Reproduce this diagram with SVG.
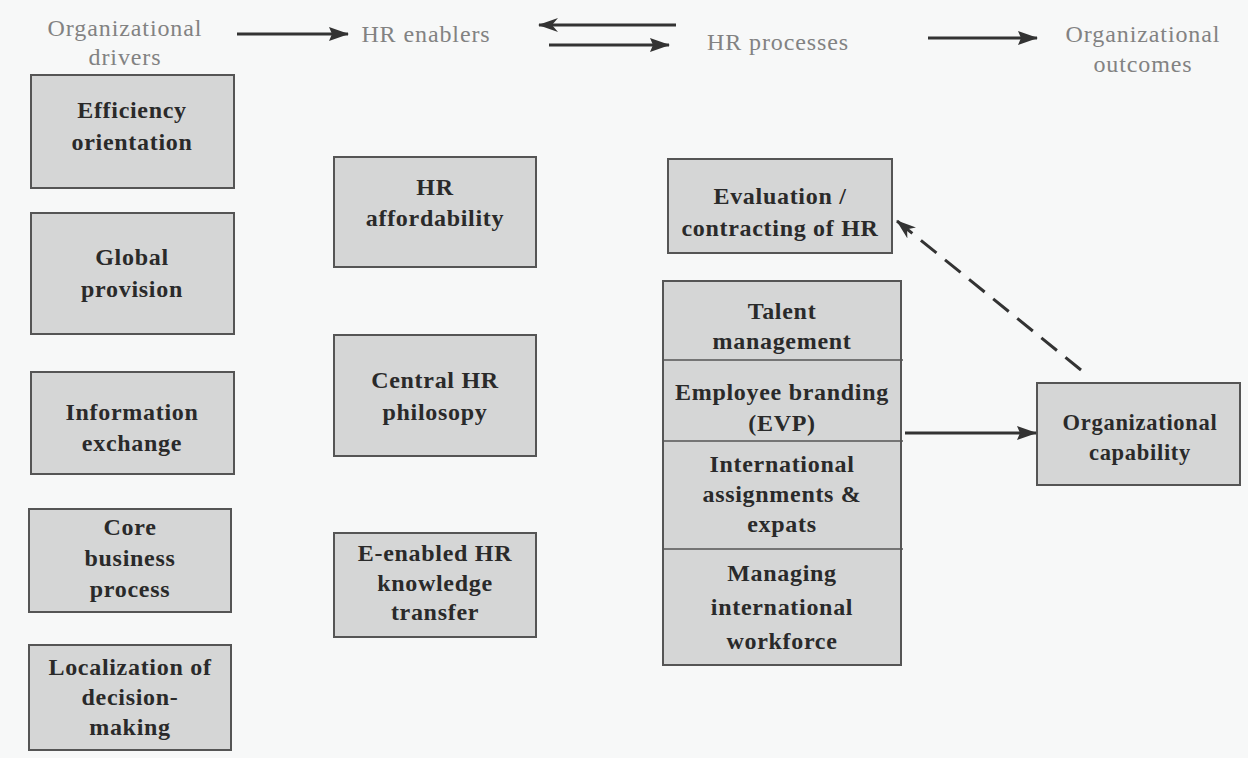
<svg xmlns="http://www.w3.org/2000/svg" width="1248" height="758" viewBox="0 0 1248 758">
<defs>
<style>
.box{fill:#d5d6d6;stroke:#555;stroke-width:2}
.div{stroke:#555;stroke-width:1.6}
.t{font-family:"Liberation Serif","Times New Roman",serif;font-weight:bold;font-size:24px;fill:#2a2a2a;text-anchor:middle;letter-spacing:0.7px}
.h{font-family:"Liberation Serif","Times New Roman",serif;font-size:24px;fill:#828282;text-anchor:middle;letter-spacing:0.9px}
.ln{stroke:#333;stroke-width:3;fill:none}
.dash{stroke:#333;stroke-width:3;fill:none;stroke-dasharray:20 11}
</style>
<marker id="ah" viewBox="0 0 20 14" refX="19" refY="7" markerWidth="20" markerHeight="14" markerUnits="userSpaceOnUse" orient="auto">
<path d="M0,0 L20,7 L0,14 L3,7 z" fill="#333"/>
</marker>
<marker id="ahs" viewBox="0 0 20 14" refX="19" refY="7" markerWidth="20" markerHeight="14" markerUnits="userSpaceOnUse" orient="auto">
<path d="M0,0 L20,7 L0,14 L6,7 z" fill="#333"/>
</marker>
</defs>
<rect x="0" y="0" width="1248" height="758" fill="#f7f8f8"/>

<g id="headers">
<text class="h" x="125" y="36">Organizational</text>
<text class="h" x="125" y="65">drivers</text>
<text class="h" x="426" y="42">HR enablers</text>
<text class="h" x="778" y="50">HR processes</text>
<text class="h" x="1143" y="42">Organizational</text>
<text class="h" x="1143" y="72">outcomes</text>
</g>

<g id="n-efficiency">
<rect class="box" x="31" y="75" width="203" height="113"/>
<text class="t" x="132" y="118">Efficiency</text>
<text class="t" x="132" y="150">orientation</text>
</g>
<g id="n-global">
<rect class="box" x="31" y="213" width="203" height="121"/>
<text class="t" x="132" y="265">Global</text>
<text class="t" x="132" y="297">provision</text>
</g>
<g id="n-info">
<rect class="box" x="31" y="372" width="203" height="102"/>
<text class="t" x="132" y="420">Information</text>
<text class="t" x="132" y="451">exchange</text>
</g>
<g id="n-core">
<rect class="box" x="29" y="509" width="202" height="103"/>
<text class="t" x="130" y="535">Core</text>
<text class="t" x="130" y="566">business</text>
<text class="t" x="130" y="597">process</text>
</g>
<g id="n-local">
<rect class="box" x="29" y="645" width="202" height="105"/>
<text class="t" x="130" y="675">Localization of</text>
<text class="t" x="130" y="705">decision-</text>
<text class="t" x="130" y="735">making</text>
</g>

<g id="n-afford">
<rect class="box" x="334" y="157" width="202" height="110"/>
<text class="t" x="435" y="195">HR</text>
<text class="t" x="435" y="226">affordability</text>
</g>
<g id="n-central">
<rect class="box" x="334" y="335" width="202" height="121"/>
<text class="t" x="435" y="388">Central HR</text>
<text class="t" x="435" y="420">philosopy</text>
</g>
<g id="n-eenabled">
<rect class="box" x="334" y="533" width="202" height="104"/>
<text class="t" x="435" y="561">E-enabled HR</text>
<text class="t" x="435" y="591">knowledge</text>
<text class="t" x="435" y="620">transfer</text>
</g>

<g id="n-eval">
<rect class="box" x="668" y="159" width="224" height="94"/>
<text class="t" x="780" y="204">Evaluation /</text>
<text class="t" x="780" y="236">contracting of HR</text>
</g>

<g id="n-processes">
<rect class="box" x="663" y="281" width="238" height="384"/>
<line class="div" x1="663" y1="360" x2="903" y2="360"/>
<line class="div" x1="663" y1="441" x2="903" y2="441"/>
<line class="div" x1="663" y1="549" x2="903" y2="549"/>
<text class="t" x="782" y="319">Talent</text>
<text class="t" x="782" y="349">management</text>
<text class="t" x="782" y="400">Employee branding</text>
<text class="t" x="782" y="431">(EVP)</text>
<text class="t" x="782" y="472">International</text>
<text class="t" x="782" y="502">assignments &amp;</text>
<text class="t" x="782" y="532">expats</text>
<text class="t" x="782" y="581">Managing</text>
<text class="t" x="782" y="615">international</text>
<text class="t" x="782" y="649">workforce</text>
</g>

<g id="n-capability">
<rect class="box" x="1037" y="383" width="203" height="102"/>
<text class="t" x="1140" y="430" style="font-size:22.5px">Organizational</text>
<text class="t" x="1140" y="460" style="font-size:22.5px">capability</text>
</g>

<g id="connectors">
<line class="ln" x1="237" y1="34" x2="348" y2="34" marker-end="url(#ah)"/>
<line class="ln" x1="676" y1="25" x2="539" y2="25" marker-end="url(#ahs)"/>
<line class="ln" x1="549" y1="45" x2="669" y2="45" marker-end="url(#ah)"/>
<line class="ln" x1="928" y1="38" x2="1037" y2="38" marker-end="url(#ah)"/>
<line class="ln" x1="905" y1="433" x2="1036" y2="433" marker-end="url(#ah)"/>
<line class="dash" x1="1081" y1="370" x2="897" y2="221" marker-end="url(#ahs)"/>
</g>
</svg>
